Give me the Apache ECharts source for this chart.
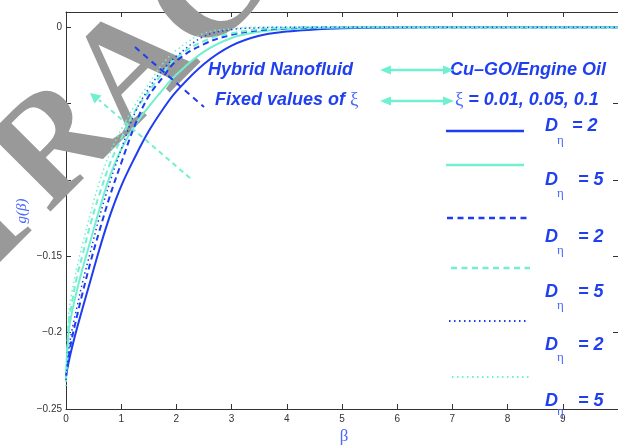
<!DOCTYPE html>
<html>
<head>
<meta charset="utf-8">
<script src="https://cdn.jsdelivr.net/npm/echarts@6/dist/echarts.min.js"></script>
<style>html,body{margin:0;padding:0;background:#fff}#c{width:618px;height:447px}</style>
</head>
<body>
<div id="c"></div>
<script>
// ---- data ----
const beta = [0,0.05,0.1,0.2,0.3,0.45,0.6,0.8,1.0,1.25,1.5,1.75,2,2.5,3,3.5,4,4.5,5,6,7,8,9,10];
const blueSolid  = [-0.228,-0.219,-0.211,-0.197,-0.184,-0.165,-0.146,-0.123,-0.104,-0.085,-0.068,-0.054,-0.042,-0.024,-0.012,-0.0055,-0.0028,-0.0015,-0.0007,-0.0001,0,0,0,0];
const cyanSolid  = [-0.230,-0.199,-0.188,-0.172,-0.158,-0.139,-0.120,-0.097,-0.080,-0.064,-0.052,-0.041,-0.031,-0.016,-0.007,-0.003,-0.0012,-0.0005,-0.0002,0,0,0,0,0];
const blueDashed = [-0.229,-0.216,-0.205,-0.189,-0.174,-0.153,-0.134,-0.110,-0.089,-0.064,-0.045,-0.033,-0.022,-0.011,-0.005,-0.002,-0.0007,-0.0002,0,0,0,0,0,0];
const cyanDashed = [-0.232,-0.193,-0.182,-0.163,-0.149,-0.128,-0.110,-0.089,-0.073,-0.055,-0.042,-0.030,-0.020,-0.009,-0.004,-0.0013,-0.0004,0,0,0,0,0,0,0];
const blueDotted = [-0.231,-0.212,-0.200,-0.183,-0.167,-0.146,-0.125,-0.101,-0.080,-0.056,-0.040,-0.028,-0.019,-0.006,-0.0015,-0.0003,0,0,0,0,0,0,0,0];
const cyanDotted = [-0.235,-0.188,-0.175,-0.157,-0.142,-0.121,-0.102,-0.082,-0.067,-0.051,-0.037,-0.024,-0.015,-0.004,-0.001,0,0,0,0,0,0,0,0,0];
const legendLabels = ['= 2','= 5','= 2','= 5','= 2','= 5'];
const annotTexts = ['Hybrid Nanofluid','Cu\u2013GO/Engine Oil','Fixed values of ','= 0.01, 0.05, 0.1'];

// ---- styles ----
const BLUE = '#1e3cf0', CYAN = '#70f0d0', TXT = '#1f3ff0', GREEK = '#4a68ff', AX = '#333';
const boldIt = 'italic bold 18px "Liberation Sans", Arial, sans-serif';
const serif = '"Liberation Serif", "DejaVu Serif", serif';

function pairs(ys){ return beta.map((b,i)=>[b, ys[i]]); }
function mk(name, ys, color, type, width){
  return {name, type:'line', data:pairs(ys), showSymbol:false, smooth:0.4,
    z:3, lineStyle:{color, width, type, cap:'butt'}, emphasis:{disabled:true}};
}
const series = [
  mk('Dη=2 ξ=0.01', blueSolid, BLUE, 'solid', 2),
  mk('Dη=5 ξ=0.01', cyanSolid, CYAN, 'solid', 2),
  mk('Dη=2 ξ=0.05', blueDashed, BLUE, [6,4], 2),
  mk('Dη=5 ξ=0.05', cyanDashed, CYAN, [6,4], 2),
  mk('Dη=2 ξ=0.1', blueDotted, BLUE, [1.5,3], 1.5),
  mk('Dη=5 ξ=0.1', cyanDotted, CYAN, [1.5,3], 1.5)
];

const chart = echarts.init(document.getElementById('c'), null, {renderer:'canvas'});
const axisCommon = {axisLine:{show:true,onZero:false,lineStyle:{color:AX,width:1}},
  axisTick:{show:true,inside:true,length:5,lineStyle:{color:AX}}, splitLine:{show:false}};
function fmtY(v){ if (Math.abs(v) < 1e-9) return '0'; return '\u2212' + String(+Math.abs(v).toFixed(2)); }

const g = [];
// watermark
g.push({type:'group', x:56, y:222, rotation:Math.PI/4, z:1, silent:true, children:[
  {type:'text', z:1, style:{text:'RET', x:0, y:-50, align:'right', verticalAlign:'middle', font:'bold 150px '+serif, fill:'#999'}},
  {type:'text', z:1, style:{text:'RACTED ARTICLE', x:0, y:-50, align:'left', verticalAlign:'middle', font:'bold 150px '+serif, fill:'#999'}}
]});
// legend keys
const keys = [
  {y:131, c:BLUE, d:null, w:2.5, x1:446, x2:524},
  {y:165, c:CYAN, d:null, w:2.5, x1:446, x2:524},
  {y:218, c:BLUE, d:[6,4.5], w:2.5, x1:447, x2:527},
  {y:268, c:CYAN, d:[6,4.5], w:2.5, x1:451, x2:530},
  {y:321, c:BLUE, d:[1.5,3.5], w:2, x1:449, x2:528},
  {y:377, c:CYAN, d:[1.5,3.5], w:2, x1:452, x2:530}
];
keys.forEach(k=>g.push({type:'line', z:5, shape:{x1:k.x1,y1:k.y,x2:k.x2,y2:k.y},
  style:{stroke:k.c, lineWidth:k.w, lineDash:k.d, lineCap:'butt'}}));
const rows = [{y:126,ey:141,ex:572},{y:180,ey:194,ex:578},{y:237,ey:251,ex:578},{y:292,ey:306,ex:578},{y:345,ey:358,ex:578},{y:401,ey:412,ex:578}];
rows.forEach((r,i)=>{
  g.push({type:'text', z:5, style:{text:'D', x:545, y:r.y, verticalAlign:'middle', font:boldIt, fill:TXT}});
  g.push({type:'text', z:5, style:{text:'\u03b7', x:557, y:r.ey, verticalAlign:'middle', font:'13px '+serif, fill:GREEK}});
  g.push({type:'text', z:5, style:{text:legendLabels[i], x:r.ex, y:r.y, verticalAlign:'middle', font:boldIt, fill:TXT}});
});
// annotation texts
g.push({type:'text', z:5, style:{text:annotTexts[0], x:208, y:70, verticalAlign:'middle', font:boldIt, fill:TXT}});
g.push({type:'text', z:5, style:{text:annotTexts[1], x:450, y:70, verticalAlign:'middle', font:boldIt, fill:TXT}});
g.push({type:'text', z:5, style:{text:'{a|'+annotTexts[2]+'}{x|\u03be}', x:215, y:100, verticalAlign:'middle',
  rich:{a:{font:boldIt, fill:TXT}, x:{font:'19px '+serif, fill:GREEK}}}});
g.push({type:'text', z:5, style:{text:'{x|\u03be }{a|'+annotTexts[3]+'}', x:455, y:100, verticalAlign:'middle',
  rich:{a:{font:boldIt, fill:TXT}, x:{font:'19px '+serif, fill:GREEK}}}});
// double arrows
[70,101].forEach(y=>{
  g.push({type:'line', z:5, shape:{x1:388,y1:y,x2:446,y2:y}, style:{stroke:CYAN, lineWidth:2.5}});
  g.push({type:'polygon', z:5, shape:{points:[[380,y],[391,y-4.5],[391,y+4.5]]}, style:{fill:CYAN}});
  g.push({type:'polygon', z:5, shape:{points:[[454,y],[443,y-4.5],[443,y+4.5]]}, style:{fill:CYAN}});
});
// dashed pointer lines
g.push({type:'line', z:5, shape:{x1:135,y1:47,x2:204,y2:107}, style:{stroke:BLUE, lineWidth:2, lineDash:[6,5]}});
g.push({type:'line', z:5, shape:{x1:190,y1:178,x2:99,y2:100}, style:{stroke:CYAN, lineWidth:2, lineDash:[5,4]}});
g.push({type:'polygon', z:5, shape:{points:[[90,93],[101.5,95.5],[94.5,103.5]]}, style:{fill:CYAN}});
// axis names
g.push({type:'text', z:5, x:22, y:211, rotation:Math.PI/2, style:{text:'g(\u03b2)', align:'center', verticalAlign:'middle', font:'italic 15px '+serif, fill:GREEK}});
g.push({type:'text', z:5, style:{text:'\u03b2', x:344, y:437, align:'center', verticalAlign:'middle', font:'17px '+serif, fill:GREEK}});

chart.setOption({
  animation:false,
  backgroundColor:'#fff',
  grid:{left:66, top:12, width:557, height:397, containLabel:false},
  xAxis:[
    Object.assign({type:'value', min:0, max:10, interval:1, position:'bottom',
      axisLabel:{color:AX, fontSize:10, fontFamily:'Liberation Sans, Arial', margin:5, showMaxLabel:false}}, axisCommon),
    Object.assign({type:'value', min:0, max:10, interval:1, position:'top', axisLabel:{show:false}}, axisCommon)
  ],
  yAxis:[
    Object.assign({type:'value', min:-0.25, max:0.01, interval:0.05, position:'left',
      axisLabel:{color:AX, fontSize:10, fontFamily:'Liberation Sans, Arial', margin:4, showMaxLabel:false, formatter:fmtY}}, axisCommon),
    Object.assign({type:'value', min:-0.25, max:0.01, interval:0.05, position:'right', axisLabel:{show:false}}, axisCommon)
  ],
  series: series,
  graphic: g
});
</script>
</body>
</html>
